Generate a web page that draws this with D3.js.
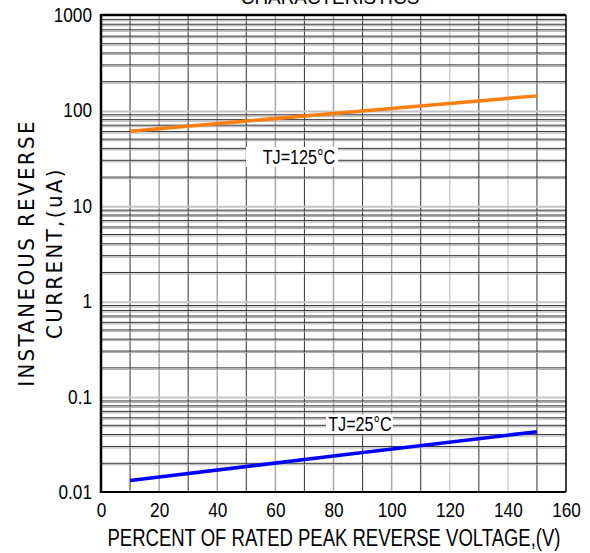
<!DOCTYPE html>
<html>
<head>
<meta charset="utf-8">
<script src="https://cdn.jsdelivr.net/npm/d3@7"></script>
<style>
  body { margin: 0; background: #fff; }
  svg { display: block; }
</style>
</head>
<body>
<div id="chart"></div>
<script>
// Data
const voltagePct = [10, 80, 150];
const current125 = [60.5, 93, 142];
const current25 = [0.0132, 0.0238, 0.0429];
const xTicks = [0, 20, 40, 60, 80, 100, 120, 140, 160];
const yTicks = [0.01, 0.1, 1, 10, 100, 1000];
const yTickLabels = ["0.01", "0.1", "1", "10", "100", "1000"];

const W = 590, H = 553;
const margin = { left: 101, right: 24, top: 15, bottom: 61 };
const sans = "'Liberation Sans', Arial, sans-serif";

const svg = d3.select("#chart").append("svg").attr("width", W).attr("height", H);

const x = d3.scaleLinear().domain([0, 160]).range([margin.left, W - margin.right]);
const y = d3.scaleLog().domain([0.01, 1000]).range([H - margin.bottom, margin.top]);

// squeeze text horizontally to mimic a narrow font
function squeeze(sel, f) {
  sel.each(function () {
    const w = this.getComputedTextLength();
    d3.select(this).attr("textLength", w * f).attr("lengthAdjust", "spacingAndGlyphs");
  });
}

// Grid: vertical lines every 10
const grid = svg.append("g");
d3.range(10, 160, 10).forEach((v) => {
  const odd = (v / 10) % 2 === 1;
  grid.append("line")
    .attr("x1", x(v)).attr("x2", x(v))
    .attr("y1", y(1000)).attr("y2", y(0.01))
    .attr("stroke", odd ? "#444" : (v >= 120 ? "#d0d0d0" : "#a8a8a8"))
    .attr("stroke-width", odd ? 1.1 : 1.5);
});

// Grid: horizontal log lines
const minor = [];
[0.01, 0.1, 1, 10, 100].forEach((d) => {
  for (let k = 2; k <= 9; k++) minor.push(d * k);
});
minor.forEach((v) => {
  grid.append("line")
    .attr("x1", x(0)).attr("x2", x(160))
    .attr("y1", y(v) + 1.5).attr("y2", y(v) + 1.5)
    .attr("stroke", "#aaa").attr("stroke-width", 1);
  grid.append("line")
    .attr("x1", x(0)).attr("x2", x(160))
    .attr("y1", y(v)).attr("y2", y(v))
    .attr("stroke", "#333").attr("stroke-width", 1);
});
[0.1, 1, 10, 100].forEach((v) => {
  grid.append("line")
    .attr("x1", x(0)).attr("x2", x(160))
    .attr("y1", y(v) + 1).attr("y2", y(v) + 1)
    .attr("stroke", "#c4c4c4").attr("stroke-width", 2);
});

// Frame
svg.append("line").attr("x1", x(0)).attr("x2", x(160)).attr("y1", y(1000)).attr("y2", y(1000))
  .attr("stroke", "#000").attr("stroke-width", 2.5);
svg.append("line").attr("x1", x(160)).attr("x2", x(160)).attr("y1", y(1000)).attr("y2", y(0.01))
  .attr("stroke", "#000").attr("stroke-width", 1.5);
svg.append("line").attr("x1", x(0)).attr("x2", x(0)).attr("y1", y(1000) - 1).attr("y2", y(0.01) + 1)
  .attr("stroke", "#000").attr("stroke-width", 2.5);
svg.append("line").attr("x1", x(0)).attr("x2", x(160)).attr("y1", y(0.01)).attr("y2", y(0.01))
  .attr("stroke", "#000").attr("stroke-width", 2);

// Axes
const xAxis = d3.axisBottom(x).tickValues(xTicks).tickSize(0).tickPadding(11);
svg.append("g").attr("transform", `translate(0,${y(0.01)})`).call(xAxis)
  .call((g) => g.select(".domain").remove())
  .selectAll("text").attr("font-family", sans).attr("font-size", 20).attr("fill", "#000")
  .call(squeeze, 0.86);

const yAxis = d3.axisLeft(y).tickValues(yTicks).tickFormat((d, i) => yTickLabels[i]).tickSize(0).tickPadding(9);
svg.append("g").attr("transform", `translate(${x(0)},0)`).call(yAxis)
  .call((g) => g.select(".domain").remove())
  .selectAll("text").attr("font-family", sans).attr("font-size", 20).attr("fill", "#000")
  .call(squeeze, 0.86);

// Lines
const line = d3.line().x((d) => x(d[0])).y((d) => y(d[1]));
svg.append("path").datum(voltagePct.map((v, i) => [v, current125[i]]))
  .attr("d", line).attr("fill", "none").attr("stroke", "#ff7f0e").attr("stroke-width", 3.5);
svg.append("path").datum(voltagePct.map((v, i) => [v, current25[i]]))
  .attr("d", line).attr("fill", "none").attr("stroke", "#0000ff").attr("stroke-width", 3.5);

// Annotations with white boxes
function label(txt, cx, cy, bx, bw) {
  svg.append("rect").attr("x", bx).attr("y", cy - 10).attr("width", bw).attr("height", 20).attr("fill", "#fff");
  svg.append("text").attr("x", cx).attr("y", cy).attr("dy", "0.36em")
    .attr("text-anchor", "middle").attr("font-family", sans).attr("font-size", 19.5).text(txt)
    .call(squeeze, 0.83);
}
label("TJ=125\u00B0C", 299, 157, 246, 92);
label("TJ=25\u00B0C", 360, 424, 326, 67);

// Title (cut off at top, as in the source)
svg.append("text").attr("x", 330).attr("y", 4).attr("text-anchor", "middle")
  .attr("font-family", sans).attr("font-size", 21).text("CHARACTERISTICS")
  .call(squeeze, 0.9);

// Axis titles
svg.append("text").attr("x", 334).attr("y", 546).attr("text-anchor", "middle")
  .attr("font-family", sans).attr("font-size", 23).text("PERCENT OF RATED PEAK REVERSE VOLTAGE,(V)")
  .attr("textLength", 453).attr("lengthAdjust", "spacingAndGlyphs");

const yl = svg.append("g").attr("transform", "translate(0,253) rotate(-90)");
yl.append("text").attr("x", 0).attr("y", 34).attr("text-anchor", "middle")
  .attr("font-family", "'DejaVu Sans Condensed', 'DejaVu Sans', sans-serif").attr("font-size", 22)
  .attr("letter-spacing", 2.4).text("INSTANEOUS REVERSE");
yl.append("text").attr("x", 0).attr("y", 62).attr("text-anchor", "middle")
  .attr("font-family", "'DejaVu Sans Condensed', 'DejaVu Sans', sans-serif").attr("font-size", 22)
  .attr("letter-spacing", 2.4).text("CURRENT,(uA)");
</script>
</body>
</html>
